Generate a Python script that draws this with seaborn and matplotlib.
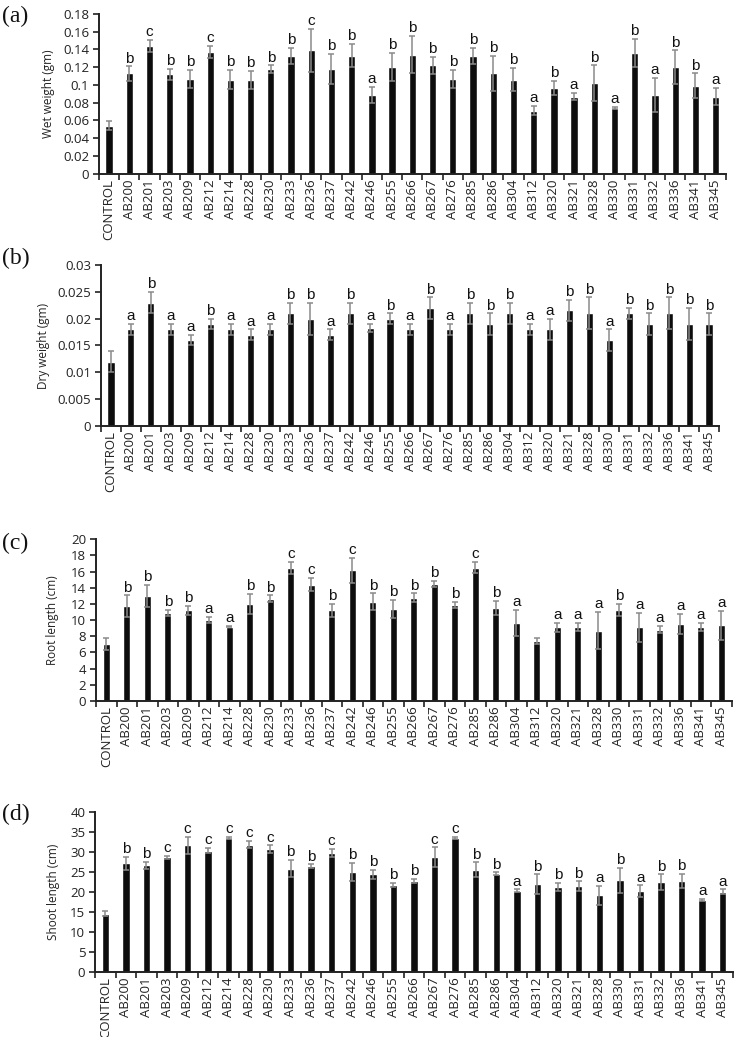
import numpy as np
import pandas as pd
import matplotlib
matplotlib.use("Agg")
from matplotlib import pyplot as plt
from matplotlib.ticker import FuncFormatter
import seaborn as sns

strains = ['CONTROL', 'AB200', 'AB201', 'AB203', 'AB209', 'AB212', 'AB214', 'AB228', 'AB230',
           'AB233', 'AB236', 'AB237', 'AB242', 'AB246', 'AB255', 'AB266', 'AB267', 'AB276',
           'AB285', 'AB286', 'AB304', 'AB312', 'AB320', 'AB321', 'AB328', 'AB330', 'AB331',
           'AB332', 'AB336', 'AB341', 'AB345']

# (a) wet weight
wet_mean = [0.054, 0.113, 0.144, 0.112, 0.107, 0.137, 0.106, 0.106, 0.118, 0.133, 0.139, 0.118,
            0.133, 0.089, 0.120, 0.134, 0.122, 0.107, 0.133, 0.113, 0.106, 0.071, 0.097, 0.087,
            0.102, 0.074, 0.136, 0.089, 0.120, 0.099, 0.087]
wet_err = [0.005, 0.008, 0.007, 0.006, 0.010, 0.007, 0.011, 0.010, 0.004, 0.009, 0.024, 0.017,
           0.013, 0.009, 0.016, 0.021, 0.010, 0.010, 0.009, 0.020, 0.013, 0.005, 0.008, 0.004,
           0.020, 0.001, 0.016, 0.019, 0.019, 0.014, 0.010]
wet_sig = ['', 'b', 'c', 'b', 'b', 'c', 'b', 'b', 'b', 'b', 'c', 'b', 'b', 'a', 'b', 'b', 'b', 'b',
           'b', 'b', 'b', 'a', 'b', 'a', 'b', 'a', 'b', 'a', 'b', 'b', 'a']

# (b) dry weight
dry_mean = [0.012, 0.018, 0.023, 0.018, 0.016, 0.019, 0.018, 0.017, 0.018, 0.021, 0.020, 0.017,
            0.021, 0.0183, 0.020, 0.018, 0.022, 0.018, 0.021, 0.019, 0.021, 0.018, 0.018, 0.0216,
            0.021, 0.016, 0.021, 0.019, 0.021, 0.019, 0.019]
dry_err = [0.002, 0.001, 0.002, 0.001, 0.001, 0.001, 0.001, 0.001, 0.001, 0.002, 0.003, 0.001,
           0.002, 0.0008, 0.001, 0.001, 0.002, 0.001, 0.002, 0.002, 0.002, 0.001, 0.002, 0.002,
           0.003, 0.002, 0.001, 0.002, 0.003, 0.003, 0.002]
dry_sig = ['', 'a', 'b', 'a', 'a', 'b', 'a', 'a', 'a', 'b', 'b', 'a', 'b', 'a', 'b', 'a', 'b', 'a',
           'b', 'b', 'b', 'a', 'a', 'b', 'b', 'a', 'b', 'b', 'b', 'b', 'b']

# (c) root length
root_mean = [7.0, 11.75, 13.0, 10.9, 11.2, 10.0, 9.2, 12.0, 12.65, 16.45, 14.4, 11.25, 16.15,
             12.3, 11.4, 12.8, 14.5, 11.9, 16.5, 11.5, 9.65, 7.4, 9.1, 9.2, 8.7, 11.3, 9.1, 8.8,
             9.55, 9.2, 9.35]
root_err = [0.75, 1.3, 1.4, 0.4, 0.6, 0.4, 0.1, 1.2, 0.4, 0.75, 0.8, 0.8, 1.5, 1.0, 1.1, 0.5,
            0.4, 0.4, 0.7, 0.9, 1.65, 0.4, 0.6, 0.5, 2.3, 0.75, 1.75, 0.45, 1.25, 0.5, 1.8]
root_sig = ['', 'b', 'b', 'b', 'b', 'a', 'a', 'b', 'b', 'c', 'c', 'b', 'c', 'b', 'b', 'b', 'b',
            'b', 'c', 'b', 'a', '', 'a', 'a', 'a', 'b', 'a', 'a', 'a', 'a', 'a']

# (d) shoot length
shoot_mean = [14.5, 27.1, 26.6, 28.6, 31.6, 30.3, 33.5, 31.8, 30.6, 25.8, 26.4, 29.8, 24.9,
              24.35, 21.7, 22.7, 28.6, 33.5, 25.5, 24.5, 20.3, 21.9, 21.2, 21.4, 19.1, 22.9,
              20.1, 22.4, 22.7, 17.9, 20.0]
shoot_err = [0.6, 1.7, 0.8, 0.3, 2.1, 0.6, 0.3, 0.9, 1.0, 2.1, 0.45, 1.0, 2.3, 1.05, 0.6, 0.5,
             2.5, 0.25, 1.85, 0.35, 0.3, 2.45, 1.1, 1.2, 2.4, 3.1, 1.5, 1.95, 1.8, 0.3, 0.6]
shoot_sig = ['', 'b', 'b', 'c', 'c', 'c', 'c', 'c', 'c', 'b', 'b', 'c', 'b', 'b', 'b', 'b', 'c',
             'c', 'b', 'b', 'a', 'b', 'b', 'b', 'a', 'b', 'a', 'b', 'b', 'a', 'a']

sns.set_style("ticks")
plt.rcParams['font.family'] = ['Open Sans', 'DejaVu Sans']

W, H = 735, 1037
fig = plt.figure(figsize=(W / 100, H / 100), dpi=100)

# label, ylabel, mean, err, letters, ymax, ystep, (left, right, top, bottom) in px, panel-label y, ylabel x
panels = [
    ('(a)', 'Wet weight (gm)', wet_mean, wet_err, wet_sig, 0.18, 0.02, (99, 725.7, 14, 173.7), 16, 48),
    ('(b)', 'Dry weight (gm)', dry_mean, dry_err, dry_sig, 0.03, 0.005, (101, 719, 265.3, 425.7), 258, 43),
    ('(c)', 'Root length (cm)', root_mean, root_err, root_sig, 20, 2, (96, 731.5, 539.3, 701), 543, 52),
    ('(d)', 'Shoot length (cm)', shoot_mean, shoot_err, shoot_sig, 40, 5, (95, 733, 811.7, 972), 814, 53),
]

for label, ylab, mean, err, sig, ymax, ystep, (l, r, t, b), ly, yx in panels:
    ax = fig.add_axes([l / W, 1 - b / H, (r - l) / W, (b - t) / H])
    df = pd.DataFrame({'strain': strains, 'value': mean})
    sns.barplot(data=df, x='strain', y='value', order=strains, color='#0d0d0d',
                saturation=1, width=0.36, errorbar=None, ax=ax)
    xs = np.arange(len(strains))
    ax.errorbar(xs, mean, yerr=err, fmt='none', ecolor='#8a8a8a', elinewidth=1.1,
                capsize=2.5, capthick=1.1)
    for i, s in enumerate(sig):
        if s:
            ax.text(i, mean[i] + err[i] + ymax * 0.005, s, ha='center', va='bottom',
                    fontsize=11, family='Liberation Sans', color='#111111')

    ax.set_xlim(-0.5, len(strains) - 0.5)
    ax.set_ylim(0, ymax)
    ax.set_yticks(np.arange(0, ymax + ystep / 2, ystep))
    ax.yaxis.set_major_formatter(FuncFormatter(lambda v, p: '%g' % round(v, 4)))
    ax.set_xticks(xs)
    ax.set_xticklabels(strains, rotation=90)
    ax.set_xticks(np.arange(-0.5, len(strains), 1), minor=True)
    ax.tick_params(axis='x', which='major', length=0, pad=4, labelsize=9.5, labelcolor='#222222')
    ax.tick_params(axis='x', which='minor', length=4, width=1.2, color='#222222', direction='out')
    ax.tick_params(axis='y', length=4, width=1.2, color='#222222', labelsize=9.5,
                   labelcolor='#222222', pad=3)
    for sp in ['left', 'bottom']:
        ax.spines[sp].set_linewidth(1.4)
        ax.spines[sp].set_color('#222222')
    sns.despine(ax=ax)
    ax.set_xlabel('')
    ax.set_ylabel('')
    fig.text(yx / W, 1 - (t + b) / 2 / H, ylab, rotation=90, ha='center', va='center',
             fontsize=8.5, color='#222222')
    fig.text(2 / W, 1 - ly / H, label, ha='left', va='center', fontsize=17,
             family='Liberation Serif', color='#111111')

fig.savefig('out.png', dpi=100)
